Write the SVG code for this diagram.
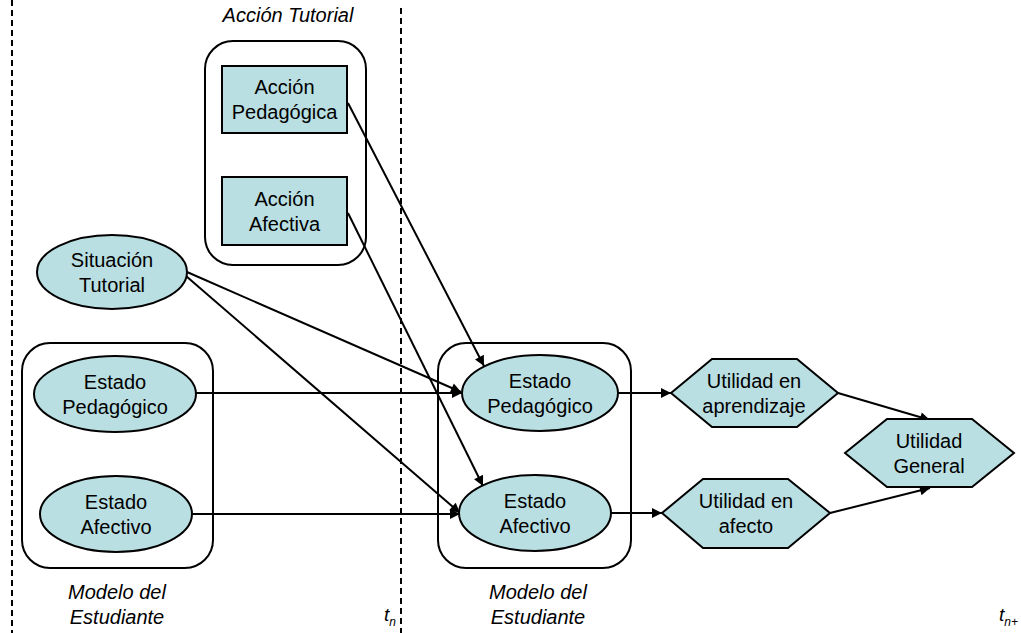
<svg xmlns="http://www.w3.org/2000/svg" width="1021" height="633" viewBox="0 0 1021 633">
  <style>
    .node { fill: #b9dfe2; stroke: #000; stroke-width: 2; }
    .box { fill: none; stroke: #000; stroke-width: 2; }
    .lbl { font-family: "Liberation Sans", Arial, sans-serif; font-size: 20px; fill: #000; text-anchor: middle; }
    .cap { font-family: "Liberation Sans", Arial, sans-serif; font-size: 20px; font-style: italic; fill: #000; text-anchor: middle; }
    .tick { font-family: "Liberation Sans", Arial, sans-serif; font-size: 19px; font-style: italic; fill: #000; }
    .edge { fill: none; stroke: #000; stroke-width: 2; }
    .time { fill: none; stroke: #000; stroke-width: 2; stroke-dasharray: 6 4; }
  </style>
  <defs>
    <marker id="arrow" viewBox="0 0 10 10" refX="10" refY="5" markerWidth="6" markerHeight="5" markerUnits="strokeWidth" orient="auto">
      <path d="M0,0 L10,5 L0,10 z" fill="#000"/>
    </marker>
  </defs>
  <rect width="1021" height="633" fill="#fff"/>

  <!-- time slice separators -->
  <g id="time-slices">
    <line class="time" x1="12" y1="0" x2="12" y2="633"/>
    <line class="time" x1="401" y1="8" x2="401" y2="633"/>
    <text class="tick" x="384" y="621">t<tspan font-size="12" dy="5">n</tspan></text>
    <text class="tick" x="999" y="621">t<tspan font-size="12" dy="5">n+</tspan></text>
  </g>

  <!-- grouping containers -->
  <g id="accion-tutorial">
    <rect class="box" x="205" y="41" width="161" height="224" rx="28"/>
    <text class="cap" x="288" y="22">Acción Tutorial</text>
  </g>
  <g id="modelo-estudiante-tn">
    <rect class="box" x="22" y="343" width="191" height="225" rx="28"/>
    <text class="cap" x="117" y="599">Modelo del</text>
    <text class="cap" x="117" y="624">Estudiante</text>
  </g>
  <g id="modelo-estudiante-tn1">
    <rect class="box" x="438" y="343" width="193" height="225" rx="28"/>
    <text class="cap" x="538" y="599">Modelo del</text>
    <text class="cap" x="538" y="624">Estudiante</text>
  </g>

  <!-- connectors -->
  <g id="connectors">
    <line class="edge" x1="348" y1="103" x2="484" y2="366" marker-end="url(#arrow)"/>
    <line class="edge" x1="348" y1="213" x2="483" y2="486" marker-end="url(#arrow)"/>
    <line class="edge" x1="187" y1="272" x2="461" y2="392" marker-end="url(#arrow)"/>
    <line class="edge" x1="186" y1="276" x2="460" y2="513" marker-end="url(#arrow)"/>
    <line class="edge" x1="196" y1="393" x2="462" y2="393" marker-end="url(#arrow)"/>
    <line class="edge" x1="192" y1="514" x2="460" y2="514" marker-end="url(#arrow)"/>
    <line class="edge" x1="617" y1="393" x2="671" y2="393" marker-end="url(#arrow)"/>
    <line class="edge" x1="611" y1="513" x2="662" y2="513" marker-end="url(#arrow)"/>
    <line class="edge" x1="838" y1="393" x2="930" y2="420" marker-end="url(#arrow)"/>
    <line class="edge" x1="830" y1="513" x2="930" y2="488" marker-end="url(#arrow)"/>
  </g>

  <!-- nodes -->
  <g id="accion-pedagogica">
    <rect class="node" x="222" y="66" width="125" height="67"/>
    <text class="lbl" x="284.5" y="94">Acción</text>
    <text class="lbl" x="284.5" y="119">Pedagógica</text>
  </g>
  <g id="accion-afectiva">
    <rect class="node" x="222" y="177" width="125" height="68"/>
    <text class="lbl" x="284.5" y="206">Acción</text>
    <text class="lbl" x="284.5" y="231">Afectiva</text>
  </g>
  <g id="situacion-tutorial">
    <ellipse class="node" cx="112" cy="272" rx="75" ry="37"/>
    <text class="lbl" x="112" y="267">Situación</text>
    <text class="lbl" x="112" y="292">Tutorial</text>
  </g>
  <g id="estado-pedagogico-tn">
    <ellipse class="node" cx="115" cy="394" rx="81" ry="38"/>
    <text class="lbl" x="115" y="389">Estado</text>
    <text class="lbl" x="115" y="414">Pedagógico</text>
  </g>
  <g id="estado-afectivo-tn">
    <ellipse class="node" cx="116" cy="514" rx="76" ry="38"/>
    <text class="lbl" x="116" y="509">Estado</text>
    <text class="lbl" x="116" y="534">Afectivo</text>
  </g>
  <g id="estado-pedagogico-tn1">
    <ellipse class="node" cx="540" cy="393" rx="78" ry="38"/>
    <text class="lbl" x="540" y="388">Estado</text>
    <text class="lbl" x="540" y="413">Pedagógico</text>
  </g>
  <g id="estado-afectivo-tn1">
    <ellipse class="node" cx="535" cy="513" rx="76" ry="38"/>
    <text class="lbl" x="535" y="508">Estado</text>
    <text class="lbl" x="535" y="533">Afectivo</text>
  </g>
  <g id="utilidad-aprendizaje">
    <polygon class="node" points="671,393 712,359 797,359 838,393 797,427 712,427"/>
    <text class="lbl" x="754" y="388">Utilidad en</text>
    <text class="lbl" x="754" y="413">aprendizaje</text>
  </g>
  <g id="utilidad-afecto">
    <polygon class="node" points="662,513 703,479 788,479 830,513 788,548 703,548"/>
    <text class="lbl" x="746" y="508">Utilidad en</text>
    <text class="lbl" x="746" y="533">afecto</text>
  </g>
  <g id="utilidad-general">
    <polygon class="node" points="845,453 887,419 972,419 1014,453 972,487 887,487"/>
    <text class="lbl" x="929" y="448">Utilidad</text>
    <text class="lbl" x="929" y="473">General</text>
  </g>
</svg>
